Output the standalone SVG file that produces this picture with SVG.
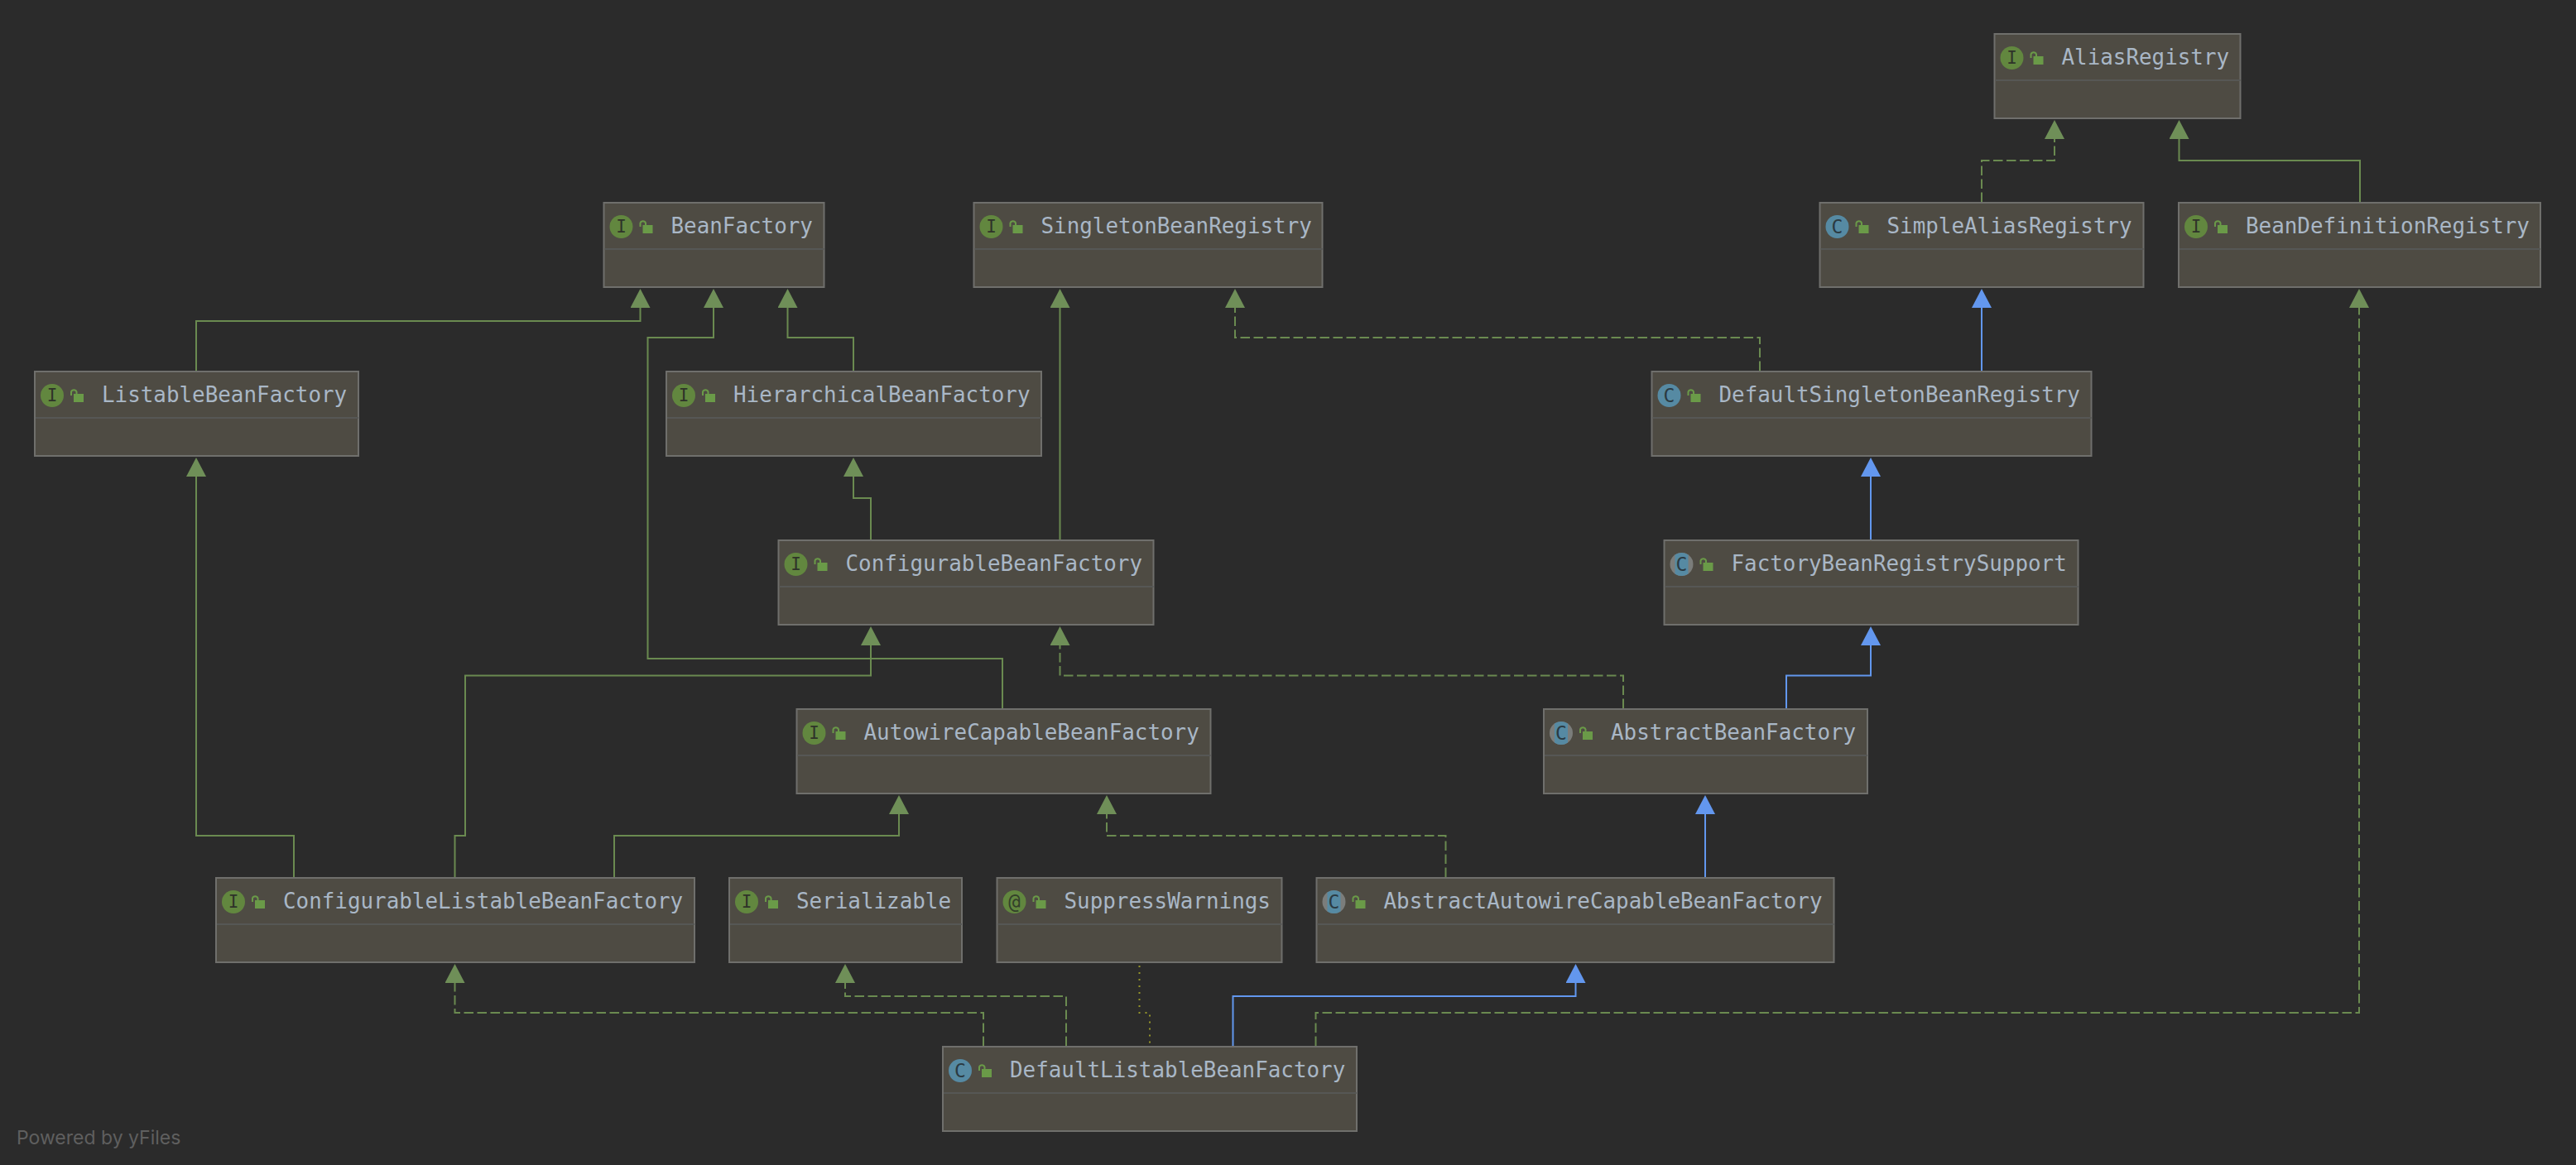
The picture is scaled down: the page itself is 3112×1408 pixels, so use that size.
<svg xmlns="http://www.w3.org/2000/svg" width="3112" height="1408" viewBox="0 0 3112 1408">
<style>
.box{fill:#4e4b43;stroke:#6f6f6c;stroke-width:2}
.sep{stroke:#565755;stroke-width:2}
.name{font-family:"DejaVu Sans Mono","Liberation Mono",monospace;font-size:25.9px;fill:#a9b7c6}
.gi{fill:#62873f}
.ci{fill:#568aa3}
.ag{fill:#7b7d7b}
.let{font-family:"DejaVu Sans Mono","Liberation Mono",monospace;fill:#2f3329;text-anchor:middle}
.l-i{font-size:21px}
.l-c{font-size:23px;fill:#2b3a42}
.l-a{font-size:24px;fill:#33402a}
.e{fill:none;stroke-width:2}
.g{stroke:#6a8a50}
.b{stroke:#6297ee}
.d{stroke-dasharray:11.5 4.5}
.o{stroke:#94942a;stroke-dasharray:2 6}
.gm{marker-end:url(#ag)}
.bm{marker-end:url(#ab)}
.foot{font-family:"Inter","Noto Sans",sans-serif;font-size:23px;fill:#5f5f5f}
</style>
<defs>
<marker id="ag" markerUnits="userSpaceOnUse" markerWidth="24" markerHeight="24" viewBox="0 0 23 24" refX="0" refY="12" orient="auto"><path d="M0 0L23 12L0 24Z" fill="#6f8f58"/></marker>
<marker id="ab" markerUnits="userSpaceOnUse" markerWidth="24" markerHeight="24" viewBox="0 0 23 24" refX="0" refY="12" orient="auto"><path d="M0 0L23 12L0 24Z" fill="#6397ee"/></marker>
<g id="lock"><rect x="0" y="6" width="12" height="10" fill="#6a9a48"/><path d="M-3 8V3.5A3.5 3.5 0 0 1 3.5 3.5V6" fill="none" stroke="#6a9a48" stroke-width="2"/></g>
<g id="abs"><circle r="14" class="ag"/><path d="M-8-11.5A14 14 0 0 1 8-11.5V11.5A14 14 0 0 1-8 11.5Z" class="ci"/></g>
</defs>
<rect width="3112" height="1408" fill="#2b2b2b"/>
<g id="connectors">
<path class="e g d gm" d="M2394 244V194H2482V168"/>
<path class="e g gm" d="M2851 244V194H2632.500V168"/>
<path class="e b bm" d="M2394 448V372"/>
<path class="e g d gm" d="M2126 448V408H1492V372"/>
<path class="e g gm" d="M237 448V388H773.500V372"/>
<path class="e g gm" d="M1211 856V796H782.500V408H862V372"/>
<path class="e g gm" d="M1031 448V408H951.500V372"/>
<path class="e g gm" d="M1280.500 652V372"/>
<path class="e g gm" d="M1052 652V602H1031V576"/>
<path class="e b bm" d="M2260 652V576"/>
<path class="e b bm" d="M2158 856V816.500H2260V780"/>
<path class="e g d gm" d="M1961 856V816.500H1280.500V780"/>
<path class="e g gm" d="M355 1060V1010H237V576"/>
<path class="e g gm" d="M549.500 1060V1010H562V816.500H1052V780"/>
<path class="e g gm" d="M742 1060V1010H1086V984"/>
<path class="e g d gm" d="M1746.500 1060V1010H1337V984"/>
<path class="e b bm" d="M2060 1060V984"/>
<path class="e g d gm" d="M1188 1264V1224H549.500V1188"/>
<path class="e g d gm" d="M1288 1264V1204H1021V1188"/>
<path class="e o" d="M1376.500 1167V1224H1389V1261"/>
<path class="e b bm" d="M1489.500 1264V1204H1903.500V1188"/>
<path class="e g d gm" d="M1589.500 1264V1224H2850V372"/>
</g>
<g id="AliasRegistry" transform="translate(2408.500 40)"><rect class="box" x="1" y="1" width="297" height="102"/><path class="sep" d="M2 57H298"/><circle class="gi" cx="22" cy="30" r="14"/><text class="let l-i" x="22" y="37">I</text><use href="#lock" x="48" y="22"/><text class="name" x="82" y="37.500">AliasRegistry</text></g>
<g id="BeanFactory" transform="translate(728.500 244)"><rect class="box" x="1" y="1" width="266" height="102"/><path class="sep" d="M2 57H267"/><circle class="gi" cx="22" cy="30" r="14"/><text class="let l-i" x="22" y="37">I</text><use href="#lock" x="48" y="22"/><text class="name" x="82" y="37.500">BeanFactory</text></g>
<g id="SingletonBeanRegistry" transform="translate(1175.500 244)"><rect class="box" x="1" y="1" width="421" height="102"/><path class="sep" d="M2 57H422"/><circle class="gi" cx="22" cy="30" r="14"/><text class="let l-i" x="22" y="37">I</text><use href="#lock" x="48" y="22"/><text class="name" x="82" y="37.500">SingletonBeanRegistry</text></g>
<g id="SimpleAliasRegistry" transform="translate(2197.500 244)"><rect class="box" x="1" y="1" width="391" height="102"/><path class="sep" d="M2 57H392"/><circle class="ci" cx="22" cy="30" r="14"/><text class="let l-c" x="22" y="38">C</text><use href="#lock" x="48" y="22"/><text class="name" x="82" y="37.500">SimpleAliasRegistry</text></g>
<g id="BeanDefinitionRegistry" transform="translate(2631 244)"><rect class="box" x="1" y="1" width="437" height="102"/><path class="sep" d="M2 57H438"/><circle class="gi" cx="22" cy="30" r="14"/><text class="let l-i" x="22" y="37">I</text><use href="#lock" x="48" y="22"/><text class="name" x="82" y="37.500">BeanDefinitionRegistry</text></g>
<g id="ListableBeanFactory" transform="translate(41 448)"><rect class="box" x="1" y="1" width="391" height="102"/><path class="sep" d="M2 57H392"/><circle class="gi" cx="22" cy="30" r="14"/><text class="let l-i" x="22" y="37">I</text><use href="#lock" x="48" y="22"/><text class="name" x="82" y="37.500">ListableBeanFactory</text></g>
<g id="HierarchicalBeanFactory" transform="translate(804 448)"><rect class="box" x="1" y="1" width="453" height="102"/><path class="sep" d="M2 57H454"/><circle class="gi" cx="22" cy="30" r="14"/><text class="let l-i" x="22" y="37">I</text><use href="#lock" x="48" y="22"/><text class="name" x="82" y="37.500">HierarchicalBeanFactory</text></g>
<g id="DefaultSingletonBeanRegistry" transform="translate(1994.500 448)"><rect class="box" x="1" y="1" width="531" height="102"/><path class="sep" d="M2 57H532"/><circle class="ci" cx="22" cy="30" r="14"/><text class="let l-c" x="22" y="38">C</text><use href="#lock" x="48" y="22"/><text class="name" x="82" y="37.500">DefaultSingletonBeanRegistry</text></g>
<g id="ConfigurableBeanFactory" transform="translate(939.500 652)"><rect class="box" x="1" y="1" width="453" height="102"/><path class="sep" d="M2 57H454"/><circle class="gi" cx="22" cy="30" r="14"/><text class="let l-i" x="22" y="37">I</text><use href="#lock" x="48" y="22"/><text class="name" x="82" y="37.500">ConfigurableBeanFactory</text></g>
<g id="FactoryBeanRegistrySupport" transform="translate(2009.500 652)"><rect class="box" x="1" y="1" width="500" height="102"/><path class="sep" d="M2 57H501"/><use href="#abs" x="22" y="30"/><text class="let l-c" x="22" y="38">C</text><use href="#lock" x="48" y="22"/><text class="name" x="82" y="37.500">FactoryBeanRegistrySupport</text></g>
<g id="AutowireCapableBeanFactory" transform="translate(961.500 856)"><rect class="box" x="1" y="1" width="500" height="102"/><path class="sep" d="M2 57H501"/><circle class="gi" cx="22" cy="30" r="14"/><text class="let l-i" x="22" y="37">I</text><use href="#lock" x="48" y="22"/><text class="name" x="82" y="37.500">AutowireCapableBeanFactory</text></g>
<g id="AbstractBeanFactory" transform="translate(1864 856)"><rect class="box" x="1" y="1" width="391" height="102"/><path class="sep" d="M2 57H392"/><use href="#abs" x="22" y="30"/><text class="let l-c" x="22" y="38">C</text><use href="#lock" x="48" y="22"/><text class="name" x="82" y="37.500">AbstractBeanFactory</text></g>
<g id="ConfigurableListableBeanFactory" transform="translate(260 1060)"><rect class="box" x="1" y="1" width="578" height="102"/><path class="sep" d="M2 57H579"/><circle class="gi" cx="22" cy="30" r="14"/><text class="let l-i" x="22" y="37">I</text><use href="#lock" x="48" y="22"/><text class="name" x="82" y="37.500">ConfigurableListableBeanFactory</text></g>
<g id="Serializable" transform="translate(880 1060)"><rect class="box" x="1" y="1" width="281" height="102"/><path class="sep" d="M2 57H282"/><circle class="gi" cx="22" cy="30" r="14"/><text class="let l-i" x="22" y="37">I</text><use href="#lock" x="48" y="22"/><text class="name" x="82" y="37.500">Serializable</text></g>
<g id="SuppressWarnings" transform="translate(1203.500 1060)"><rect class="box" x="1" y="1" width="344" height="102"/><path class="sep" d="M2 57H345"/><circle class="gi" cx="22" cy="30" r="14"/><text class="let l-a" x="22" y="38">@</text><use href="#lock" x="48" y="22"/><text class="name" x="82" y="37.500">SuppressWarnings</text></g>
<g id="AbstractAutowireCapableBeanFactory" transform="translate(1589.500 1060)"><rect class="box" x="1" y="1" width="625" height="102"/><path class="sep" d="M2 57H626"/><use href="#abs" x="22" y="30"/><text class="let l-c" x="22" y="38">C</text><use href="#lock" x="48" y="22"/><text class="name" x="82" y="37.500">AbstractAutowireCapableBeanFactory</text></g>
<g id="DefaultListableBeanFactory" transform="translate(1138 1264)"><rect class="box" x="1" y="1" width="500" height="102"/><path class="sep" d="M2 57H501"/><circle class="ci" cx="22" cy="30" r="14"/><text class="let l-c" x="22" y="38">C</text><use href="#lock" x="48" y="22"/><text class="name" x="82" y="37.500">DefaultListableBeanFactory</text></g>
<text class="foot" x="20" y="1383">Powered by yFiles</text>
</svg>
